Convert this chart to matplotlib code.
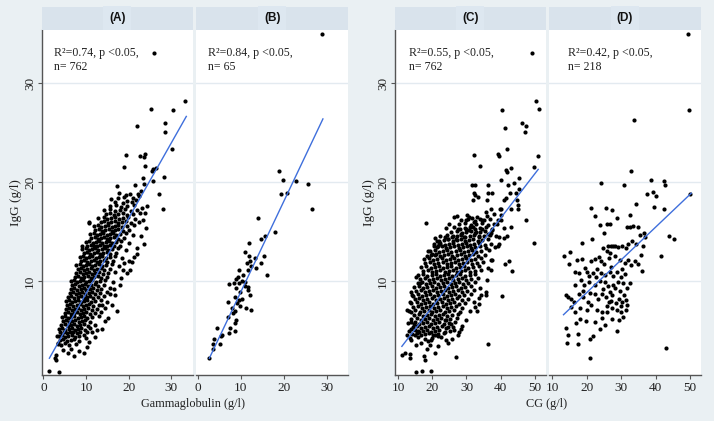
import matplotlib
matplotlib.use("Agg")
import matplotlib.pyplot as plt

# ---------------- data ----------------
panel_titles = ["(A)", "(B)", "(C)", "(D)"]
panel_stats = ["R\u00b2=0.74, p <0.05,\nn= 762", "R\u00b2=0.84, p <0.05,\nn= 65",
               "R\u00b2=0.55, p <0.05,\nn= 762", "R\u00b2=0.42, p <0.05,\nn= 218"]
x_label_left = "Gammaglobulin (g/l)"
x_label_right = "CG (g/l)"
y_label = "IgG (g/l)"
gamma_ticks = [0, 10, 20, 30]
cg_ticks = [10, 20, 30, 40, 50]
igg_ticks = [10, 20, 30]

# fitted lines: (slope, intercept, x_start, x_end)
fit_a = (0.762, 1.13, 1.4, 33.5)
fit_b = (0.917, -0.28, 2.7, 29.1)
fit_c = (0.4486, -1.58, 11.1, 51.0)
fit_d = (0.3315, 2.19, 13.3, 50.4)

# Panel A: (gammaglobulin, IgG)
panel_a_points = [
    (26.0, 33.1), (33.3, 28.2), (25.3, 27.4), (30.3, 27.3), (28.5, 26.0), (22.0, 25.7), (28.5, 25.1),
    (30.1, 23.4), (19.4, 22.8), (22.7, 22.7), (23.8, 22.9), (23.6, 22.6), (18.9, 21.5), (23.9, 21.6),
    (25.5, 21.1), (25.7, 21.3), (26.3, 21.4), (28.3, 20.5), (23.4, 20.4), (25.7, 20.1), (17.3, 19.6),
    (21.5, 19.7), (23.6, 19.8), (27.1, 18.8), (17.8, 18.9), (18.9, 18.5), (19.4, 18.7), (20.3, 18.8),
    (22.2, 18.8), (22.4, 18.6), (22.9, 19.1), (16.7, 18.0), (18.6, 17.9), (19.7, 18.1), (20.8, 18.0),
    (28.1, 17.3), (24.2, 17.6), (23.1, 17.4), (23.9, 16.9),
    (21.9, 12.7), (20.8, 11.9), (20.4, 11.1), (18.8, 11.8), (18.6, 11.1), (17.3, 7.0), (16.9, 8.6),
    (15.7, 8.7), (16.0, 7.6), (13.8, 7.6), (13.4, 6.9), (12.6, 5.1), (13.8, 5.2), (11.5, 4.9),
    (9.9, 4.2), (9.5, 2.7), (7.2, 2.4), (5.7, 2.7), (4.5, 3.0), (2.9, 2.5), (2.8, 2.2), (2.9, 2.0),
    (1.4, 0.9), (3.7, 0.8),
    (23.3, 16.2), (24.0, 15.4), (22.8, 14.6), (23.5, 13.8), (22.0, 13.3), (21.2, 12.4), (20.0, 12.0),
    (19.5, 10.8), (18.3, 10.3), (17.9, 9.6), (16.5, 9.2), (15.2, 6.3), (14.4, 6.0), (12.0, 4.3),
    (10.8, 3.8), (10.3, 3.3), (8.3, 2.9), (6.5, 3.1), (3.5, 3.7), (3.1, 4.4), (10.7, 16.0),
    (9.0, 13.6), (10.6, 15.9),
    (3.4, 3.6), (4.2, 3.5), (5.1, 3.7), (6.0, 3.5), (7.6, 3.6),
    (3.8, 4.0), (4.6, 4.1), (5.5, 3.9), (6.4, 4.0), (7.2, 4.1), (8.4, 3.9),
    (3.6, 4.4), (4.3, 4.5), (5.0, 4.3), (5.8, 4.4), (6.6, 4.5), (7.4, 4.3), (8.3, 4.4), (9.6, 4.5),
    (4.0, 4.8), (4.8, 4.9), (5.5, 4.7), (6.2, 4.8), (7.0, 4.9), (7.8, 4.7), (8.6, 4.8), (10.3, 4.9),
    (3.7, 5.2), (4.4, 5.3), (5.1, 5.1), (5.9, 5.2), (6.6, 5.3), (7.4, 5.1), (8.1, 5.2), (8.9, 5.3),
    (9.8, 5.1), (11.0, 5.3),
    (4.2, 5.6), (5.0, 5.7), (5.7, 5.5), (6.4, 5.6), (7.1, 5.7), (7.9, 5.5), (8.6, 5.6), (9.4, 5.7),
    (10.4, 5.5), (12.1, 5.6),
    (4.6, 6.0), (5.3, 6.1), (6.0, 5.9), (6.8, 6.0), (7.5, 6.1), (8.3, 5.9), (9.0, 6.0), (9.8, 6.1),
    (10.9, 5.9),
    (4.4, 6.4), (5.1, 6.5), (5.8, 6.3), (6.5, 6.4), (7.2, 6.5), (8.0, 6.3), (8.7, 6.4), (9.5, 6.5),
    (10.3, 6.3), (11.4, 6.4), (13.0, 6.5),
    (5.0, 6.8), (5.7, 6.9), (6.4, 6.7), (7.1, 6.8), (7.8, 6.9), (8.5, 6.7), (9.3, 6.8), (10.1, 6.9),
    (10.9, 6.7), (12.1, 6.8),
    (5.3, 7.2), (6.0, 7.3), (6.7, 7.1), (7.4, 7.2), (8.2, 7.3), (8.9, 7.1), (9.6, 7.2), (10.4, 7.3),
    (11.3, 7.1), (12.6, 7.2), (14.5, 7.3),
    (5.6, 7.6), (6.3, 7.7), (7.0, 7.5), (7.8, 7.6), (8.5, 7.7), (9.2, 7.5), (10.0, 7.6), (10.8, 7.7),
    (11.7, 7.5), (13.0, 7.6),
    (5.2, 8.0), (5.9, 8.1), (6.6, 7.9), (7.4, 8.0), (8.1, 8.1), (8.8, 7.9), (9.6, 8.0), (10.3, 8.1),
    (11.1, 7.9), (12.0, 8.0), (13.5, 8.1), (15.0, 7.9),
    (5.8, 8.4), (6.5, 8.5), (7.2, 8.3), (8.0, 8.4), (8.7, 8.5), (9.4, 8.3), (10.2, 8.4), (10.9, 8.5),
    (11.7, 8.3), (12.7, 8.4), (14.1, 8.5),
    (6.2, 8.8), (6.9, 8.9), (7.6, 8.7), (8.4, 8.8), (9.1, 8.9), (9.8, 8.7), (10.6, 8.8), (11.3, 8.9),
    (12.1, 8.7), (13.2, 8.8), (14.8, 8.9),
    (6.5, 9.2), (7.2, 9.3), (7.9, 9.1), (8.7, 9.2), (9.4, 9.3), (10.1, 9.1), (10.9, 9.2), (11.6, 9.3),
    (12.5, 9.1), (13.6, 9.2), (15.6, 9.3),
    (6.8, 9.6), (7.5, 9.7), (8.3, 9.5), (9.0, 9.6), (9.7, 9.7), (10.5, 9.5), (11.2, 9.6), (12.0, 9.7),
    (12.9, 9.5), (14.1, 9.6),
    (6.4, 10.0), (7.1, 10.1), (7.9, 9.9), (8.6, 10.0), (9.3, 10.1), (10.1, 9.9), (10.8, 10.0),
    (11.5, 10.1), (12.3, 9.9), (13.2, 10.0), (14.5, 10.1), (16.3, 9.9),
    (7.4, 10.4), (8.2, 10.5), (8.9, 10.3), (9.6, 10.4), (10.4, 10.5), (11.1, 10.3), (11.9, 10.4),
    (12.7, 10.5), (13.6, 10.3), (14.9, 10.4),
    (7.7, 10.8), (8.5, 10.9), (9.2, 10.7), (10.0, 10.8), (10.7, 10.9), (11.5, 10.7), (12.2, 10.8),
    (13.0, 10.9), (13.9, 10.7), (15.1, 10.8), (16.9, 10.9),
    (8.1, 11.2), (8.9, 11.3), (9.6, 11.1), (10.3, 11.2), (11.1, 11.3), (11.8, 11.1), (12.6, 11.2),
    (13.4, 11.3), (14.3, 11.1), (15.6, 11.2),
    (7.6, 11.6), (8.5, 11.7), (9.2, 11.5), (10.0, 11.6), (10.7, 11.7), (11.5, 11.5), (12.2, 11.6),
    (13.0, 11.7), (13.8, 11.5), (14.7, 11.6), (16.0, 11.7), (17.8, 11.5),
    (8.8, 12.0), (9.6, 12.1), (10.3, 11.9), (11.1, 12.0), (11.8, 12.1), (12.6, 11.9), (13.3, 12.0),
    (14.1, 12.1), (15.0, 11.9), (16.3, 12.0),
    (8.6, 12.4), (9.3, 12.5), (10.0, 12.3), (10.8, 12.4), (11.5, 12.5), (12.3, 12.3), (13.0, 12.4),
    (13.8, 12.5), (14.6, 12.3), (15.5, 12.4), (16.8, 12.5), (18.5, 12.3),
    (9.5, 12.8), (10.3, 12.9), (11.0, 12.7), (11.8, 12.8), (12.5, 12.9), (13.3, 12.7), (14.0, 12.8),
    (14.8, 12.9), (15.7, 12.7), (17.0, 12.8),
    (9.1, 13.2), (9.9, 13.3), (10.7, 13.1), (11.4, 13.2), (12.2, 13.3), (12.9, 13.1), (13.7, 13.2),
    (14.4, 13.3), (15.2, 13.1), (16.1, 13.2), (17.4, 13.3), (19.3, 13.1),
    (10.3, 13.6), (11.1, 13.7), (11.8, 13.5), (12.6, 13.6), (13.3, 13.7), (14.1, 13.5), (14.8, 13.6),
    (15.6, 13.7), (16.5, 13.5), (17.9, 13.6),
    (10.1, 14.0), (10.8, 14.1), (11.6, 13.9), (12.3, 14.0), (13.1, 14.1), (13.8, 13.9), (14.6, 14.0),
    (15.3, 14.1), (16.1, 13.9), (17.0, 14.0), (18.3, 14.1), (20.1, 13.9),
    (11.2, 14.4), (12.0, 14.5), (12.7, 14.3), (13.5, 14.4), (14.2, 14.5), (15.0, 14.3), (15.7, 14.4),
    (16.5, 14.5), (17.4, 14.3), (18.8, 14.4),
    (11.0, 14.8), (11.8, 14.9), (12.5, 14.7), (13.3, 14.8), (14.0, 14.9), (14.8, 14.7), (15.5, 14.8),
    (16.3, 14.9), (17.1, 14.7), (18.0, 14.8), (19.4, 14.9), (21.0, 14.7),
    (12.2, 15.2), (13.0, 15.3), (13.8, 15.1), (14.5, 15.2), (15.3, 15.3), (16.0, 15.1), (16.8, 15.2),
    (17.6, 15.3), (18.6, 15.1), (20.0, 15.2),
    (11.9, 15.6), (12.8, 15.7), (13.6, 15.5), (14.4, 15.6), (15.2, 15.7), (16.0, 15.5), (16.8, 15.6),
    (17.6, 15.7), (18.5, 15.5), (19.6, 15.6), (21.3, 15.7),
    (13.4, 16.0), (14.3, 16.1), (15.1, 15.9), (15.9, 16.0), (16.7, 16.1), (17.5, 15.9), (18.4, 16.0),
    (19.4, 16.1), (20.6, 15.9), (22.4, 16.0),
    (12.9, 16.4), (14.1, 16.5), (15.0, 16.3), (15.9, 16.4), (16.8, 16.5), (17.7, 16.3), (18.7, 16.4),
    (19.9, 16.5), (21.4, 16.3),
    (14.6, 16.8), (15.6, 16.9), (16.6, 16.7), (17.6, 16.8), (18.6, 16.9), (19.7, 16.7), (21.0, 16.8),
    (22.6, 16.9),
    (14.2, 17.2), (15.5, 17.3), (16.8, 17.1), (18.0, 17.2), (19.2, 17.3), (20.5, 17.1), (22.0, 17.2),
    (15.6, 17.6), (17.0, 17.7), (18.3, 17.5), (19.7, 17.6), (21.2, 17.7),
    (15.8, 18.3), (17.5, 18.4), (20.9, 18.4), (21.8, 18.2),
]

# Panel B: (gammaglobulin, IgG)
panel_b_points = [
    (28.8, 35.0), (18.8, 21.1), (19.9, 20.2), (22.8, 20.1), (25.6, 19.8), (19.3, 18.8), (20.7, 18.9),
    (26.6, 17.3), (14.1, 16.4), (17.9, 15.0), (15.7, 14.6), (14.7, 14.3), (11.9, 13.9), (10.9, 12.9),
    (15.4, 12.5), (11.4, 11.8), (12.2, 12.0), (12.5, 11.5), (13.6, 11.3), (14.6, 11.8), (9.7, 11.1),
    (11.8, 11.1), (16.1, 10.6), (10.5, 10.6), (9.4, 10.4), (11.1, 9.9), (7.3, 9.7), (9.6, 9.8),
    (8.8, 9.3), (11.8, 9.4), (11.7, 9.1), (9.9, 8.9), (8.6, 8.4), (10.3, 8.2), (12.2, 8.6), (9.6, 8.1),
    (7.0, 7.9), (9.2, 7.8), (7.9, 7.3), (11.3, 7.3), (12.5, 7.1), (8.6, 7.0), (8.2, 6.8), (7.0, 6.4),
    (8.8, 6.1), (8.7, 5.8), (7.4, 5.3), (4.4, 5.3), (8.6, 5.0), (7.2, 4.7), (5.6, 4.5), (5.5, 4.4),
    (3.9, 4.1), (3.5, 3.6), (5.1, 3.6), (3.6, 3.1), (2.7, 2.2),
    (9.0, 10.2), (10.2, 10.0), (8.5, 9.8), (12.0, 12.5), (13.2, 12.3), (11.0, 9.5), (9.8, 7.5),
]

# Panel C: (CG, IgG)
panel_c_points = [
    (49.1, 33.1), (50.5, 28.2), (51.2, 27.4), (40.3, 27.3), (46.3, 26.0), (47.3, 25.7), (47.0, 25.1),
    (41.2, 25.5), (41.8, 23.4), (32.3, 22.8), (39.1, 22.9), (39.6, 22.7), (51.0, 22.7), (34.0, 21.6),
    (49.8, 21.5), (41.7, 21.2), (42.0, 21.0), (43.1, 21.4), (40.1, 20.2), (45.5, 20.4), (31.6, 19.7),
    (32.6, 19.7), (36.2, 19.7), (42.2, 19.7), (44.0, 19.9), (32.3, 18.9), (32.5, 18.7), (33.3, 18.5),
    (32.0, 18.2), (36.2, 18.9), (37.6, 18.9), (36.0, 18.2), (42.7, 18.9), (44.5, 18.9), (45.3, 19.3),
    (41.0, 18.2), (41.5, 18.4), (44.7, 18.2), (45.1, 17.7), (45.1, 17.3), (40.1, 17.3), (37.2, 17.3),
    (18.3, 15.9), (49.7, 13.9), (47.4, 16.2), (26.3, 16.5), (24.8, 15.8), (27.4, 15.3), (29.9, 16.2),
    (30.8, 16.5), (31.5, 16.4), (32.3, 16.0), (34.0, 16.3), (35.7, 17.0), (35.2, 16.2), (38.1, 16.8),
    (39.9, 17.3), (40.1, 16.7), (40.2, 16.2), (43.0, 17.3), (43.1, 15.5), (38.1, 15.8), (39.1, 16.2),
    (20.7, 14.4), (22.1, 14.1), (23.6, 14.5), (24.6, 14.3), (26.0, 14.6), (27.0, 14.3), (28.4, 14.8),
    (29.4, 14.5), (29.9, 15.3), (30.8, 15.2), (31.8, 15.5), (32.8, 15.0), (33.8, 14.6), (34.7, 15.3),
    (36.2, 14.8), (37.6, 15.2), (38.6, 14.6), (41.0, 14.4), (42.0, 14.6),
    (12.6, 7.1), (13.9, 6.9), (13.4, 7.9), (13.7, 8.9), (14.4, 8.5), (15.1, 10.4), (16.4, 9.8),
    (18.7, 13.0), (18.5, 12.5), (19.9, 12.7), (20.9, 12.6), (21.6, 13.5), (20.5, 13.6), (21.5, 14.1),
    (22.1, 13.8), (13.9, 5.9), (13.7, 5.2), (12.7, 4.5), (13.7, 4.0), (14.9, 4.5), (15.8, 5.0),
    (14.7, 5.7), (18.5, 3.1), (19.2, 3.5), (16.8, 3.7), (15.3, 3.5), (21.6, 3.4), (24.1, 4.0),
    (24.6, 3.7), (28.4, 5.2), (27.9, 4.9), (26.5, 5.1), (24.6, 5.4), (25.5, 5.7), (23.6, 6.1),
    (21.6, 4.4), (20.7, 4.5), (19.7, 4.0), (18.7, 3.9), (11.0, 2.5), (11.9, 2.7), (13.6, 2.6),
    (13.4, 2.2), (17.6, 2.4), (18.0, 2.0), (20.9, 2.7), (15.1, 0.8), (17.0, 0.9), (19.5, 0.9),
    (26.8, 2.3), (36.3, 3.6), (40.5, 8.5), (43.4, 11.0), (42.4, 12.0), (41.2, 11.7), (35.7, 8.9),
    (35.7, 8.6), (37.2, 11.1), (37.2, 12.1), (39.1, 13.5), (39.6, 13.8), (33.1, 7.0), (32.3, 7.9),
    (33.8, 7.7), (34.2, 8.6),
    (13.5, 4.2), (15.9, 4.3), (17.8, 4.1), (20.0, 4.2), (22.6, 4.3), (25.8, 4.1),
    (14.2, 4.6), (15.4, 4.7), (16.6, 4.5), (17.8, 4.6), (19.0, 4.7), (20.3, 4.5), (21.7, 4.6),
    (23.3, 4.7), (27.4, 4.5),
    (13.2, 5.0), (14.8, 5.1), (16.0, 4.9), (17.2, 5.0), (18.4, 5.1), (19.6, 4.9), (20.8, 5.0),
    (22.1, 5.1), (23.6, 4.9), (25.2, 5.0),
    (14.3, 5.4), (15.5, 5.5), (16.7, 5.3), (17.9, 5.4), (19.1, 5.5), (20.2, 5.3), (21.4, 5.4),
    (22.7, 5.5), (24.1, 5.3), (26.0, 5.4), (28.6, 5.5),
    (12.8, 5.8), (15.0, 5.9), (16.1, 5.7), (17.3, 5.8), (18.5, 5.9), (19.6, 5.7), (20.8, 5.8),
    (22.0, 5.9), (23.3, 5.7), (24.8, 5.8), (26.7, 5.9),
    (13.8, 6.2), (15.5, 6.3), (16.7, 6.1), (17.9, 6.2), (19.0, 6.3), (20.2, 6.1), (21.4, 6.2),
    (22.6, 6.3), (23.9, 6.1), (25.3, 6.2), (27.2, 6.3), (29.8, 6.1),
    (14.6, 6.6), (16.1, 6.7), (17.3, 6.5), (18.4, 6.6), (19.6, 6.7), (20.7, 6.5), (21.9, 6.6),
    (23.1, 6.7), (24.4, 6.5), (25.8, 6.6), (27.6, 6.7),
    (13.3, 7.0), (15.0, 7.1), (16.5, 6.9), (17.7, 7.0), (18.9, 7.1), (20.0, 6.9), (21.2, 7.0),
    (22.4, 7.1), (23.6, 6.9), (24.9, 7.0), (26.3, 7.1), (28.1, 6.9), (31.0, 7.0),
    (14.4, 7.4), (15.8, 7.5), (17.1, 7.3), (18.3, 7.4), (19.4, 7.5), (20.6, 7.3), (21.8, 7.4),
    (23.0, 7.5), (24.2, 7.3), (25.5, 7.4), (26.9, 7.5), (28.7, 7.3), (32.5, 7.4),
    (13.9, 7.8), (15.4, 7.9), (16.7, 7.7), (17.9, 7.8), (19.1, 7.9), (20.3, 7.7), (21.5, 7.8),
    (22.7, 7.9), (23.9, 7.7), (25.1, 7.8), (26.4, 7.9), (27.9, 7.7), (29.7, 7.8),
    (14.9, 8.2), (16.2, 8.3), (17.4, 8.1), (18.6, 8.2), (19.8, 8.3), (21.0, 8.1), (22.2, 8.2),
    (23.4, 8.3), (24.6, 8.1), (25.8, 8.2), (27.1, 8.3), (28.6, 8.1), (30.6, 8.2), (33.8, 8.3),
    (14.2, 8.6), (15.7, 8.7), (17.0, 8.5), (18.2, 8.6), (19.4, 8.7), (20.6, 8.5), (21.8, 8.6),
    (23.0, 8.7), (24.2, 8.5), (25.4, 8.6), (26.6, 8.7), (27.9, 8.5), (29.4, 8.6), (31.4, 8.7),
    (15.3, 9.0), (16.6, 9.1), (17.8, 8.9), (19.0, 9.0), (20.2, 9.1), (21.4, 8.9), (22.6, 9.0),
    (23.8, 9.1), (25.0, 8.9), (26.2, 9.0), (27.4, 9.1), (28.7, 8.9), (30.2, 9.0), (32.3, 9.1),
    (14.6, 9.4), (16.1, 9.5), (17.4, 9.3), (18.6, 9.4), (19.8, 9.5), (21.0, 9.3), (22.2, 9.4),
    (23.4, 9.5), (24.6, 9.3), (25.8, 9.4), (27.0, 9.5), (28.3, 9.3), (29.7, 9.4), (31.4, 9.5),
    (34.0, 9.3),
    (15.7, 9.8), (17.0, 9.9), (18.2, 9.7), (19.4, 9.8), (20.6, 9.9), (21.8, 9.7), (23.0, 9.8),
    (24.2, 9.9), (25.4, 9.7), (26.6, 9.8), (27.8, 9.9), (29.1, 9.7), (30.6, 9.8), (32.5, 9.9),
    (16.5, 10.2), (17.8, 10.3), (19.0, 10.1), (20.2, 10.2), (21.4, 10.3), (22.6, 10.1), (23.8, 10.2),
    (25.0, 10.3), (26.2, 10.1), (27.4, 10.2), (28.6, 10.3), (29.9, 10.1), (31.4, 10.2), (33.3, 10.3),
    (36.0, 10.1),
    (15.9, 10.6), (17.3, 10.7), (18.6, 10.5), (19.8, 10.6), (21.0, 10.7), (22.2, 10.5), (23.4, 10.6),
    (24.6, 10.7), (25.8, 10.5), (27.0, 10.6), (28.2, 10.7), (29.5, 10.5), (30.9, 10.6), (32.6, 10.7),
    (17.4, 11.0), (18.8, 11.1), (20.0, 10.9), (21.2, 11.0), (22.4, 11.1), (23.6, 10.9), (24.8, 11.0),
    (26.0, 11.1), (27.2, 10.9), (28.4, 11.0), (29.6, 11.1), (30.9, 10.9), (32.4, 11.0), (34.4, 11.1),
    (16.8, 11.4), (18.3, 11.5), (19.6, 11.3), (20.8, 11.4), (22.0, 11.5), (23.2, 11.3), (24.4, 11.4),
    (25.6, 11.5), (26.8, 11.3), (28.0, 11.4), (29.2, 11.5), (30.5, 11.3), (31.9, 11.4), (33.6, 11.5),
    (36.3, 11.3),
    (18.0, 11.8), (19.3, 11.9), (20.6, 11.7), (21.8, 11.8), (23.0, 11.9), (24.2, 11.7), (25.4, 11.8),
    (26.6, 11.9), (27.8, 11.7), (29.0, 11.8), (30.2, 11.9), (31.5, 11.7), (33.0, 11.8), (34.9, 11.9),
    (17.5, 12.2), (19.0, 12.3), (20.3, 12.1), (21.5, 12.2), (22.7, 12.3), (23.9, 12.1), (25.1, 12.2),
    (26.3, 12.3), (27.5, 12.1), (28.7, 12.2), (29.9, 12.3), (31.2, 12.1), (32.6, 12.2), (34.3, 12.3),
    (37.4, 12.1),
    (19.7, 12.6), (21.0, 12.7), (22.3, 12.5), (23.5, 12.6), (24.7, 12.7), (25.9, 12.5), (27.1, 12.6),
    (28.3, 12.7), (29.5, 12.5), (30.7, 12.6), (32.0, 12.7), (33.5, 12.5), (35.4, 12.6),
    (19.2, 13.0), (20.7, 13.1), (22.0, 12.9), (23.2, 13.0), (24.4, 13.1), (25.6, 12.9), (26.8, 13.0),
    (28.0, 13.1), (29.2, 12.9), (30.4, 13.0), (31.6, 13.1), (32.9, 12.9), (34.4, 13.0), (36.5, 13.1),
    (21.5, 13.4), (22.9, 13.5), (24.1, 13.3), (25.3, 13.4), (26.5, 13.5), (27.7, 13.3), (28.9, 13.4),
    (30.1, 13.5), (31.3, 13.3), (32.6, 13.4), (34.0, 13.5), (35.8, 13.3), (38.5, 13.4),
    (20.4, 13.8), (22.4, 13.9), (23.8, 13.7), (25.0, 13.8), (26.2, 13.9), (27.4, 13.7), (28.6, 13.8),
    (29.8, 13.9), (31.0, 13.7), (32.3, 13.8), (33.7, 13.9), (35.3, 13.7), (37.3, 13.8),
    (23.3, 14.2), (24.7, 14.3), (26.0, 14.1), (27.2, 14.2), (28.4, 14.3), (29.6, 14.1), (30.8, 14.2),
    (32.0, 14.3), (33.3, 14.1), (34.7, 14.2), (36.4, 14.3),
    (22.2, 14.6), (24.3, 14.7), (25.8, 14.5), (27.1, 14.6), (28.4, 14.7), (29.7, 14.5), (31.0, 14.6),
    (32.3, 14.7), (33.6, 14.5), (35.1, 14.6), (37.0, 14.7), (39.6, 14.5),
    (25.6, 15.0), (27.2, 15.1), (28.6, 14.9), (29.9, 15.0), (31.2, 15.1), (32.5, 14.9), (33.9, 15.0),
    (35.4, 15.1), (37.2, 14.9),
    (24.0, 15.4), (26.4, 15.5), (28.1, 15.3), (29.6, 15.4), (31.0, 15.5), (32.4, 15.3), (33.9, 15.4),
    (35.6, 15.5), (37.6, 15.3), (41.0, 15.4),
    (27.8, 15.8), (29.6, 15.9), (31.2, 15.7), (32.8, 15.8), (34.5, 15.9), (36.4, 15.7), (38.8, 15.8),
    (28.5, 16.2), (30.6, 16.3), (32.6, 16.1), (34.6, 16.2), (36.8, 16.3),
    (27.3, 16.6), (30.1, 16.7), (33.0, 16.5), (35.9, 16.6),
]

# Panel D: (CG, IgG)
panel_d_points = [
    (49.4, 35.0), (49.8, 27.3), (33.8, 26.3), (33.0, 21.1), (24.2, 19.9), (30.9, 19.7), (38.8, 20.2),
    (42.6, 20.1), (42.8, 19.7), (50.1, 18.8), (37.4, 18.8), (39.2, 19.0), (40.0, 18.6), (34.4, 17.8),
    (39.7, 17.5), (42.5, 17.3), (21.3, 17.4), (25.5, 17.4), (27.5, 17.2), (22.3, 16.6), (28.8, 16.4),
    (32.5, 16.7), (23.9, 15.7), (25.9, 15.8), (26.8, 15.8), (31.7, 15.5), (32.5, 15.5), (33.5, 15.6),
    (34.9, 15.5), (25.0, 14.9), (35.4, 14.7), (36.7, 14.9), (37.0, 14.5), (43.9, 14.6), (45.3, 14.3),
    (21.7, 14.3), (18.6, 13.9), (33.3, 14.1), (32.0, 13.8), (26.2, 13.6), (27.7, 13.6),
    (27.2, 13.6), (28.2, 13.5), (29.1, 13.4), (30.3, 13.6), (31.3, 13.3), (34.2, 13.8),
    (13.5, 12.5), (15.1, 12.9), (14.9, 11.7), (18.6, 12.2), (41.6, 12.5),
    (21.3, 12.0), (22.3, 12.2), (23.5, 12.4), (24.2, 12.0), (25.0, 11.7),
    (26.7, 12.8), (28.2, 12.5), (29.6, 12.1), (31.1, 11.8), (32.0, 12.1), (33.0, 11.6), (34.0, 12.0),
    (34.8, 11.7), (36.1, 11.0),
    (16.7, 10.9), (17.9, 10.8), (20.1, 10.9), (20.8, 10.5), (21.8, 10.8), (22.8, 10.4),
    (24.2, 10.8), (25.4, 10.6), (26.7, 10.9), (27.7, 10.5), (28.9, 10.9), (29.9, 10.4), (31.1, 10.7),
    (32.5, 9.8),
    (16.7, 9.6), (18.3, 10.1), (19.3, 9.6), (20.8, 9.9), (22.3, 9.6), (23.8, 10.0), (25.3, 9.9),
    (26.2, 9.5), (27.7, 9.6), (29.1, 9.9), (30.6, 9.8),
    (14.0, 8.6), (14.5, 8.4), (15.4, 8.2), (16.4, 7.9), (17.9, 8.7), (18.9, 8.4),
    (20.5, 7.9), (22.3, 8.7), (23.2, 8.2), (24.6, 8.7), (25.6, 8.4), (26.5, 7.9), (27.5, 8.6),
    (28.5, 7.8), (29.4, 8.2), (30.4, 7.9), (31.3, 8.1),
    (16.7, 6.9), (18.1, 7.3), (20.0, 7.1), (21.4, 7.6), (22.9, 7.1), (24.6, 6.9), (26.0, 6.9),
    (27.5, 7.3), (28.9, 7.1), (29.9, 6.9), (31.3, 7.1),
    (18.1, 6.2), (19.8, 6.0), (22.4, 5.9), (24.6, 6.3), (27.5, 6.2), (29.4, 6.1), (30.6, 6.4),
    (23.9, 5.2), (14.0, 5.3), (14.5, 4.5), (14.3, 3.7), (17.4, 4.6), (17.6, 3.6), (21.0, 4.1),
    (22.0, 4.4), (28.9, 5.0), (20.9, 2.2), (43.1, 3.2),
    (24.8, 9.2), (26.9, 8.9), (28.2, 9.3), (29.8, 9.0), (30.8, 8.6), (25.9, 7.5), (27.1, 8.0),
    (30.0, 7.5), (31.8, 7.6), (31.6, 9.3), (30.2, 11.2), (27.0, 11.4), (23.1, 11.2), (19.5, 11.3),
    (17.2, 12.1), (26.0, 13.0), (24.9, 13.3), (35.7, 12.6), (36.4, 13.6), (19.0, 9.0), (21.0, 8.8),
    (15.6, 7.4), (17.0, 5.8), (25.4, 5.6), (26.5, 12.3),
]

# ---------------- styling ----------------
FIG_BG = "#eaf0f3"
STRIP_BG = "#d9e3ec"
STRIP_TXT_BG = "#dde7f0"
GRID_C = "#e3eaf0"
SPINE_C = "#555555"
LINE_C = "#3f6fdc"
SERIF = ["Liberation Serif", "DejaVu Serif"]
SANS = ["Liberation Sans", "DejaVu Sans"]

W, H = 714.0, 421.0


def rect(l, t, r, b):
    return [l / W, 1 - b / H, (r - l) / W, (b - t) / H]


fig = plt.figure(figsize=(7.14, 4.21), dpi=100)
fig.patch.set_facecolor(FIG_BG)

panel_px = [(41.7, 192.7), (196.0, 348.3), (394.7, 545.7), (548.7, 701.0)]
PLOT_TOP, PLOT_BOT, STRIP_TOP = 30.0, 375.0, 6.7

datasets = [panel_a_points, panel_b_points, panel_c_points, panel_d_points]
fits = [fit_a, fit_b, fit_c, fit_d]
xlims = [(-0.4, 35.0), (-0.4, 35.0), (9.0, 53.2), (9.0, 53.2)]
xticks = [gamma_ticks, gamma_ticks, cg_ticks, cg_ticks]
stat_x = [0.083, 0.077, 0.095, 0.127]

for i, (l, r) in enumerate(panel_px):
    ax = fig.add_axes(rect(l, PLOT_TOP, r, PLOT_BOT))
    ax.set_facecolor("white")
    xs = [p[0] for p in datasets[i]]
    ys = [p[1] for p in datasets[i]]
    ax.set_xlim(*xlims[i])
    ax.set_ylim(0.5, 35.4)
    for g in igg_ticks:
        ax.axhline(g, color=GRID_C, lw=1.0, zorder=0)
    ax.scatter(xs, ys, s=9, c="black", linewidths=0, zorder=2)
    slope, icpt, x0, x1 = fits[i]
    ax.plot([x0, x1], [icpt + slope * x0, icpt + slope * x1], color=LINE_C, lw=1.0, zorder=3)

    for sp in ("top", "right"):
        ax.spines[sp].set_visible(False)
    ax.spines["bottom"].set_color(SPINE_C)
    ax.spines["bottom"].set_linewidth(1.0)
    ax.set_xticks(xticks[i])
    ax.set_xticklabels([str(t) for t in xticks[i]], fontfamily=SERIF, fontsize=9.5)
    ax.tick_params(axis="x", length=3, width=0.8, color=SPINE_C, pad=2, labelcolor="#222222")
    if i in (0, 2):
        ax.spines["left"].set_color(SPINE_C)
        ax.spines["left"].set_linewidth(1.0)
        ax.set_yticks(igg_ticks)
        ax.set_yticklabels([str(t) for t in igg_ticks], rotation=90, va="center",
                           fontfamily=SERIF, fontsize=9.5)
        ax.tick_params(axis="y", length=3, width=0.8, color=SPINE_C, pad=1, labelcolor="#222222")
    else:
        ax.spines["left"].set_visible(False)
        ax.set_yticks([])

    ax.text(stat_x[i], 0.95, panel_stats[i], transform=ax.transAxes, ha="left", va="top",
            fontfamily=SERIF, fontsize=8.6, color="#222222", linespacing=1.25)

    # strip header
    sax = fig.add_axes(rect(l, STRIP_TOP, r, PLOT_TOP))
    sax.set_facecolor(STRIP_BG)
    sax.set_xticks([])
    sax.set_yticks([])
    for sp in sax.spines.values():
        sp.set_visible(False)
    sax.text(0.5, 0.5, panel_titles[i], ha="center", va="center", fontfamily=SANS,
             fontweight="bold", fontsize=8.5, color="#111111",
             bbox=dict(boxstyle="square,pad=0.5", fc=STRIP_TXT_BG, ec="none"))

# axis labels
fig.text(16 / W, 1 - 203 / H, y_label, rotation=90, ha="center", va="center",
         fontfamily=SERIF, fontsize=9.5, color="#222222")
fig.text(369 / W, 1 - 203 / H, y_label, rotation=90, ha="center", va="center",
         fontfamily=SERIF, fontsize=9.5, color="#222222")
fig.text(193 / W, 1 - 404 / H, x_label_left, ha="center", va="center",
         fontfamily=SERIF, fontsize=8.8, color="#222222")
fig.text(547 / W, 1 - 404 / H, x_label_right, ha="center", va="center",
         fontfamily=SERIF, fontsize=8.8, color="#222222")

fig.savefig("out.png", dpi=100, facecolor=FIG_BG)
